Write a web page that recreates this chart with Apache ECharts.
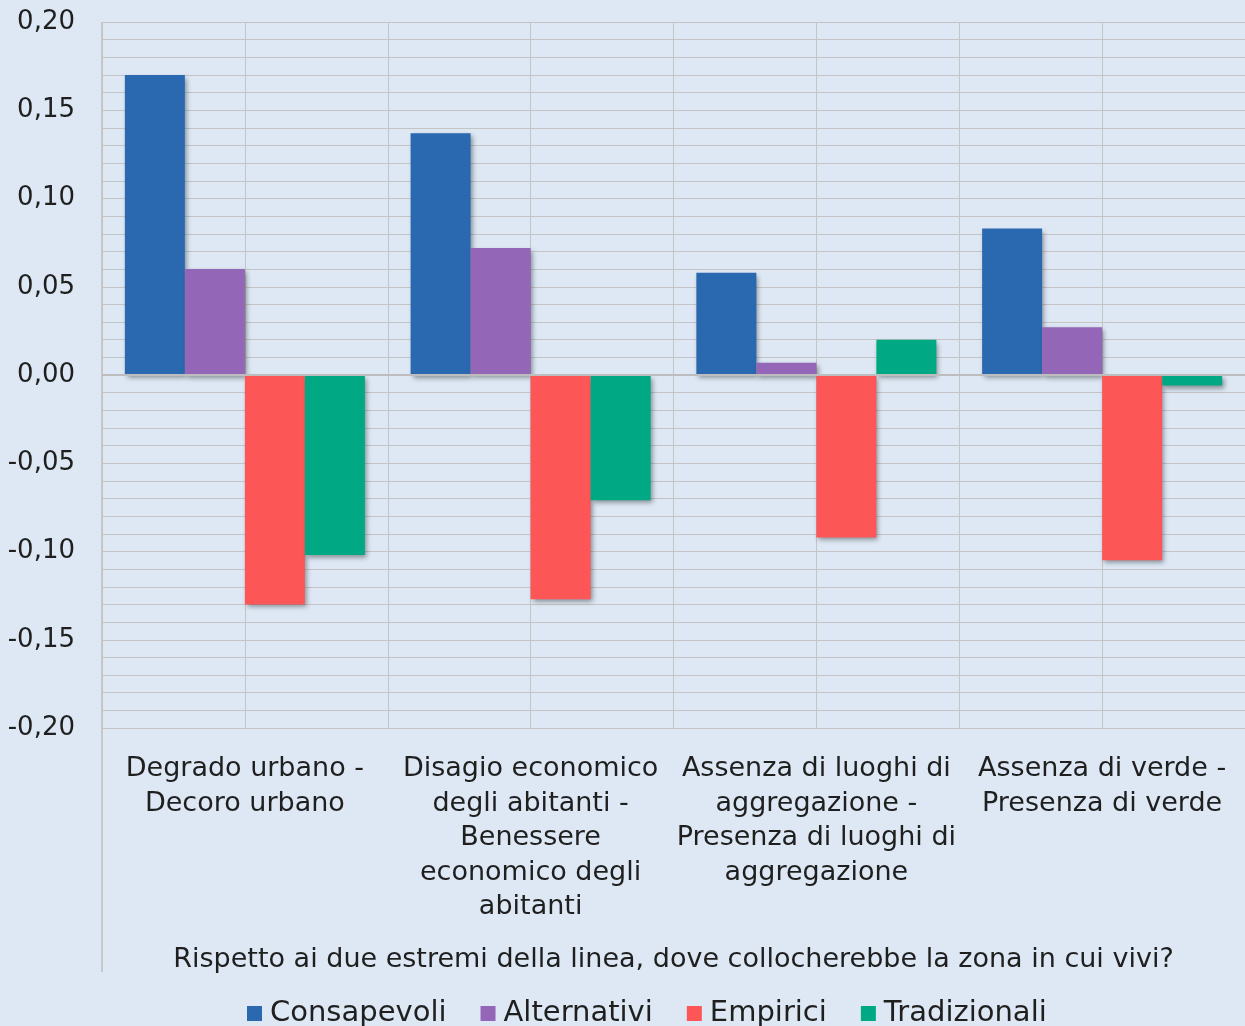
<!DOCTYPE html>
<html>
<head>
<meta charset="utf-8">
<script src="https://cdn.jsdelivr.net/npm/echarts@6/dist/echarts.min.js"></script>
<style>
html,body{margin:0;padding:0;background:#dde8f4;}
#chart{width:1245px;height:1026px;}
</style>
</head>
<body>
<div id="chart"></div>
<script>
const categories = [
  "Degrado urbano -\nDecoro urbano",
  "Disagio economico\ndegli abitanti -\nBenessere\neconomico degli\nabitanti",
  "Assenza di luoghi di\naggregazione -\nPresenza di luoghi di\naggregazione",
  "Assenza di verde -\nPresenza di verde"
];
const seriesNames = ["Consapevoli", "Alternativi", "Empirici", "Tradizionali"];
const consapevoli = [0.170, 0.137, 0.058, 0.083];
const alternativi = [0.060, 0.072, 0.007, 0.027];
const empirici = [-0.130, -0.127, -0.092, -0.105];
const tradizionali = [-0.102, -0.071, 0.020, -0.006];
const colors = ["#2a69b0", "#9366b7", "#fd5656", "#00a884"];
const axisTitle = "Rispetto ai due estremi della linea, dove collocherebbe la zona in cui vivi?";

const FONT = "DejaVu Sans";
const TXT = "#1f1f1f";
const GRID = "#c4c4c4";

const chart = echarts.init(document.getElementById('chart'), null, {renderer:'canvas'});
const dataArr = [consapevoli, alternativi, empirici, tradizionali];
const shadow = {shadowColor:'rgba(0,0,0,0.4)', shadowBlur:5, shadowOffsetX:2, shadowOffsetY:3};

const series = seriesNames.map((n,i)=>({
  name:n, type:'bar', data:dataArr[i], barGap:'0%', barCategoryGap:'16%',
  itemStyle:Object.assign({color:colors[i]}, shadow), z:3,
  markLine: i===0 ? {silent:true, symbol:'none', label:{show:false},
    lineStyle:{color:'#bdbdbd', width:2, type:'solid'}, data:[{yAxis:0}], z:4} : undefined
}));

chart.setOption({
  backgroundColor:'#dde8f4',
  textStyle:{fontFamily:FONT, color:TXT},
  animation:false,
  grid:{left:102, top:22, width:1144, height:706, containLabel:false},
  legend:{
    data:seriesNames, left:242, top:994, itemWidth:15, itemHeight:15, itemGap:34,
    icon:'rect', textStyle:{fontFamily:FONT, fontSize:29, color:TXT, padding:[0,0,0,3]}
  },
  xAxis:[{
    type:'category', data:categories, position:'bottom',
    axisLine:{show:false, onZero:false}, axisTick:{show:false},
    axisLabel:{fontFamily:FONT, fontSize:27, color:TXT, margin:24, lineHeight:34.5, interval:0, align:'center'},
    splitLine:{show:false},
    name:axisTitle, nameLocation:'middle', nameGap:218,
    nameTextStyle:{fontFamily:FONT, fontSize:27, color:TXT}
  },{
    type:'value', min:0, max:8, interval:1, position:'top',
    axisLine:{show:false}, axisTick:{show:false}, axisLabel:{show:false},
    splitLine:{show:true, lineStyle:{color:GRID, width:1}}
  }],
  yAxis:{
    type:'value', min:-0.2, max:0.2, interval:0.05,
    axisLine:{show:false}, axisTick:{show:false},
    axisLabel:{fontFamily:FONT, fontSize:26, color:TXT, margin:27,
      formatter:v=>v.toFixed(2).replace('.',',')},
    splitLine:{show:true, lineStyle:{color:GRID, width:1}},
    minorTick:{show:false, splitNumber:5},
    minorSplitLine:{show:true, lineStyle:{color:GRID, width:1}}
  },
  graphic:[{type:'line', shape:{x1:102, y1:22, x2:102, y2:972}, style:{stroke:'#c8c8c8', lineWidth:2}, z:0, silent:true}],
  series:series
});
</script>
</body>
</html>
